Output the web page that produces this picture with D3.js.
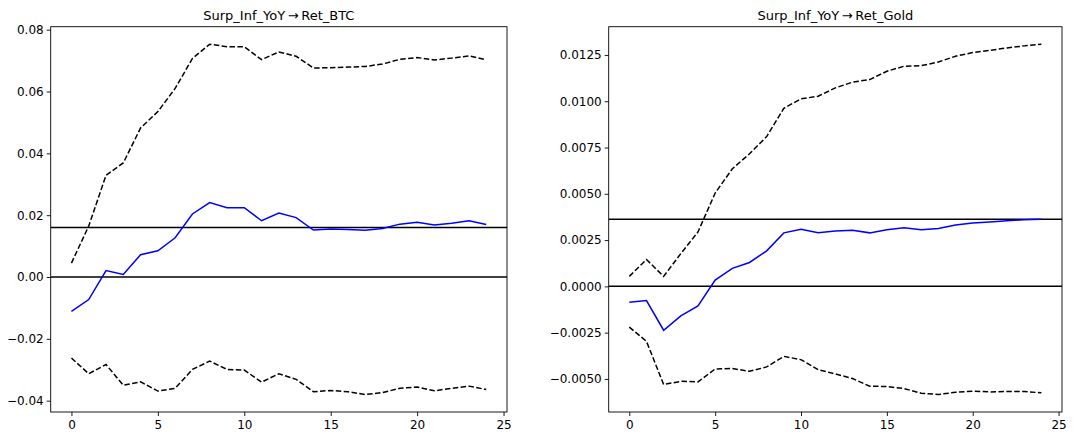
<!DOCTYPE html>
<html>
<head>
<meta charset="utf-8">
<script src="https://cdn.jsdelivr.net/npm/d3@7"></script>
<style>
  html, body { margin: 0; padding: 0; background: #fff; }
  svg { display: block; }
  text { font-family: "DejaVu Sans", sans-serif; fill: #000; }
</style>
</head>
<body>
<svg id="chart" width="1091" height="436"></svg>
<script>
// Impulse response horizons
const horizons = d3.range(0, 25);

// Surp_Inf_YoY -> Ret_BTC
const btcIrf = [-0.0111, -0.0073, 0.0021, 0.0008, 0.0072, 0.0085, 0.0127, 0.0204, 0.0241, 0.0224,
  0.0224, 0.0182, 0.0207, 0.0192, 0.0152, 0.0155, 0.0154, 0.0151, 0.0157, 0.0171,
  0.0177, 0.0168, 0.0174, 0.0182, 0.0170];
const btcUpper = [0.0045, 0.0165, 0.0329, 0.0369, 0.0482, 0.0535, 0.0610, 0.0707, 0.0753, 0.0745,
  0.0745, 0.0703, 0.0728, 0.0714, 0.0676, 0.0677, 0.0679, 0.0681, 0.0689, 0.0704,
  0.0710, 0.0702, 0.0708, 0.0715, 0.0703];
const btcLower = [-0.0262, -0.0313, -0.0283, -0.0350, -0.0339, -0.0369, -0.0360, -0.0299, -0.0272, -0.0299,
  -0.0301, -0.0340, -0.0313, -0.0331, -0.0371, -0.0367, -0.0371, -0.0380, -0.0374, -0.0360,
  -0.0356, -0.0368, -0.0360, -0.0353, -0.0364];
const btcRefLevel = 0.0160;
const btcYTicks = [-0.04, -0.02, 0.00, 0.02, 0.04, 0.06, 0.08];

// Surp_Inf_YoY -> Ret_Gold
const goldIrf = [-0.00086, -0.00077, -0.00237, -0.00159, -0.00106, 0.00034, 0.00097, 0.00129, 0.00192, 0.00289,
  0.00308, 0.00290, 0.00299, 0.00303, 0.00289, 0.00306, 0.00317, 0.00306, 0.00312, 0.00332,
  0.00342, 0.00348, 0.00355, 0.00360, 0.00362];
const goldUpper = [0.00054, 0.00145, 0.00054, 0.00177, 0.00294, 0.00504, 0.00635, 0.00716, 0.00809, 0.00962,
  0.01013, 0.01027, 0.01072, 0.01103, 0.01117, 0.01162, 0.01189, 0.01192, 0.01212, 0.01243,
  0.01263, 0.01275, 0.01288, 0.01299, 0.01308];
const goldLower = [-0.00220, -0.00297, -0.00530, -0.00513, -0.00516, -0.00446, -0.00444, -0.00459, -0.00435, -0.00378,
  -0.00396, -0.00450, -0.00473, -0.00498, -0.00539, -0.00541, -0.00552, -0.00577, -0.00584, -0.00572,
  -0.00566, -0.00570, -0.00568, -0.00568, -0.00575];
const goldRefLevel = 0.00363;
const goldYTicks = [-0.005, -0.0025, 0.0, 0.0025, 0.005, 0.0075, 0.01, 0.0125];

const xTicks = [0, 5, 10, 15, 20, 25];

const panels = [
  { title: "Surp_Inf_YoY\u2009\u2192\u2009Ret_BTC", irf: btcIrf, upper: btcUpper, lower: btcLower,
    ref: btcRefLevel, yTicks: btcYTicks, fmt: d3.format(".2f"),
    box: { x0: 50.7, x1: 507, y0: 26.7, y1: 412 } },
  { title: "Surp_Inf_YoY\u2009\u2192\u2009Ret_Gold", irf: goldIrf, upper: goldUpper, lower: goldLower,
    ref: goldRefLevel, yTicks: goldYTicks, fmt: d3.format(".4f"),
    box: { x0: 608.7, x1: 1062, y0: 26.7, y1: 412 } }
];

const svg = d3.select("#chart");
const minus = s => s.replace("-", "\u2212");

panels.forEach(p => {
  const b = p.box;
  // 5% padding around the data, as in the usual autoscaled axes
  const xPad = (d3.max(horizons) - d3.min(horizons)) * 0.05;
  const x = d3.scaleLinear()
    .domain([d3.min(horizons) - xPad, d3.max(horizons) + xPad])
    .range([b.x0, b.x1]);
  const lo = d3.min(p.lower.concat(p.irf));
  const hi = d3.max(p.upper.concat(p.irf));
  const yPad = (hi - lo) * 0.05;
  const y = d3.scaleLinear().domain([lo - yPad, hi + yPad]).range([b.y1, b.y0]);

  const g = svg.append("g");

  const clipId = "clip" + Math.round(b.x0);
  g.append("clipPath").attr("id", clipId)
    .append("rect").attr("x", b.x0).attr("y", b.y0)
    .attr("width", b.x1 - b.x0).attr("height", b.y1 - b.y0);

  const plot = g.append("g").attr("clip-path", `url(#${clipId})`);

  const line = d3.line().x((d, i) => x(horizons[i])).y(d => y(d));

  // zero line and reference level
  [0, p.ref].forEach(v => {
    plot.append("line")
      .attr("x1", b.x0).attr("x2", b.x1)
      .attr("y1", y(v)).attr("y2", y(v))
      .attr("stroke", "#000").attr("stroke-width", 1.5);
  });

  // confidence bands
  [p.upper, p.lower].forEach(band => {
    plot.append("path").datum(band)
      .attr("d", line)
      .attr("fill", "none").attr("stroke", "#000")
      .attr("stroke-width", 1.5)
      .attr("stroke-dasharray", "5.5,2.4");
  });

  // impulse response
  plot.append("path").datum(p.irf)
    .attr("d", line)
    .attr("fill", "none").attr("stroke", "#0000ff")
    .attr("stroke-width", 1.5);

  // axes
  const xAxis = d3.axisBottom(x).tickValues(xTicks).tickSize(4).tickPadding(4)
    .tickFormat(d3.format("d"));
  const yAxis = d3.axisLeft(y).tickValues(p.yTicks).tickSize(4).tickPadding(3)
    .tickFormat(d => minus(p.fmt(d)));

  const gx = g.append("g").attr("transform", `translate(0,${b.y1})`).call(xAxis);
  const gy = g.append("g").attr("transform", `translate(${b.x0},0)`).call(yAxis);
  [gx, gy].forEach(a => {
    a.select(".domain").remove();
    a.selectAll(".tick line").attr("stroke", "#000").attr("stroke-width", 0.9);
    a.selectAll(".tick text").attr("font-size", 12).attr("font-family", "DejaVu Sans");
  });

  // frame
  g.append("rect")
    .attr("x", b.x0).attr("y", b.y0)
    .attr("width", b.x1 - b.x0).attr("height", b.y1 - b.y0)
    .attr("fill", "none").attr("stroke", "#000").attr("stroke-width", 0.9);

  // title
  g.append("text")
    .attr("x", (b.x0 + b.x1) / 2).attr("y", 20)
    .attr("text-anchor", "middle")
    .attr("font-size", 13)
    .text(p.title);
});
</script>
</body>
</html>
